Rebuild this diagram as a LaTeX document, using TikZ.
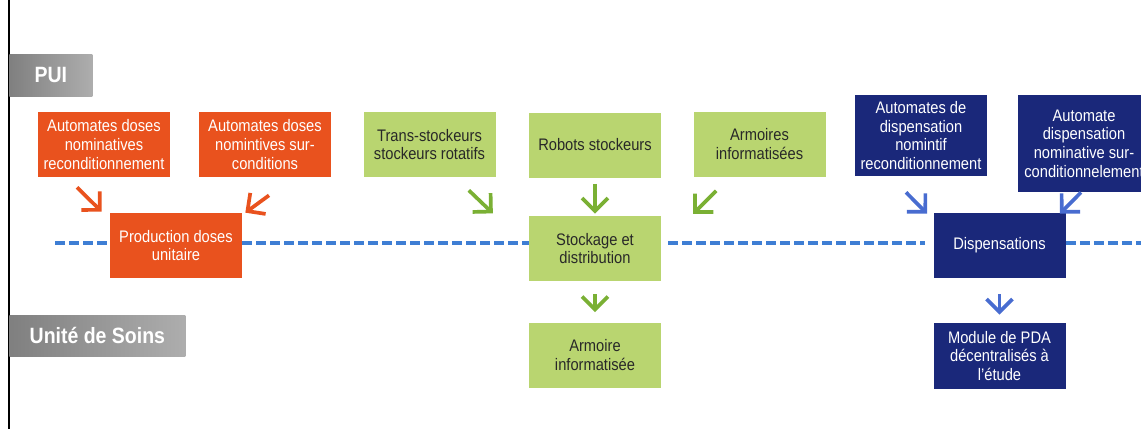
\documentclass[tikz,border=0pt]{standalone}
\usepackage{fontspec}
\setmainfont{Liberation Sans}[FakeStretch=0.88]
\usetikzlibrary{arrows.meta,calc,positioning}
\definecolor{pdaorange}{RGB}{233,82,30}
\definecolor{pdagreen}{RGB}{185,213,112}
\definecolor{pdanavy}{RGB}{26,40,122}
\definecolor{pdatext}{RGB}{40,40,40}
\definecolor{pdaarrgreen}{RGB}{122,176,52}
\definecolor{pdaarrblue}{RGB}{72,108,208}
\definecolor{pdalane}{RGB}{62,126,212}
\tikzset{
  ebox/.style  = {minimum width=26.4mm, minimum height=13mm, inner sep=0.6mm,
                  align=center, font=\fontsize{9.5}{10.6}\selectfont},
  obox/.style  = {ebox, fill=pdaorange, text=white},
  gbox/.style  = {ebox, fill=pdagreen, text=pdatext},
  nbox/.style  = {ebox, fill=pdanavy, text=white},
  tag/.style   = {anchor=west, left color=black!50, right color=black!32,
                  text=white, inner sep=0pt, font=\fontsize{12.6}{14}\selectfont\bfseries},
  arr/.style   = {-{Straight Barb[length=2.6mm,width=5.2mm]}, line width=2.1pt},
  oarr/.style  = {arr, draw=pdaorange},
  garr/.style  = {arr, draw=pdaarrgreen},
  barr/.style  = {arr, draw=pdaarrblue},
  lane/.style  = {draw=pdalane, line width=1.9pt, dash pattern=on 2mm off 0.8mm},
}
\begin{document}
\begin{tikzpicture}[x=0.2mm,y=-0.2mm]
  \useasboundingbox (0,0) rectangle (1141,429);
  \fill[white] (0,0) rectangle (1141,429);
  \draw[line width=0.9pt] (9,0) -- (9,429);

  % levels
  \node[tag, minimum width=16.6mm, minimum height=8.4mm] (pui) at (9,75) {PUI};
  \node[tag, minimum width=35.2mm, minimum height=8.2mm] (uds) at (9,335.5) {Unité de Soins};

  % production
  \node[obox] (adr) at (104,144.5) {Automates doses\\nominatives\\reconditionnement};
  \node[obox] (ads) at (265,144.5) {Automates doses\\nomintives sur-\\conditions};
  \node[obox] (prod) at (176,245.5) {Production doses\\unitaire};

  % stockage
  \node[gbox] (trans) at (429.5,144.5) {Trans-stockeurs\\stockeurs rotatifs};
  \node[gbox] (robots) at (595,145) {Robots stockeurs};
  \node[gbox] (armi) at (759.5,144) {Armoires\\informatisées};
  \node[gbox] (stock) at (595,248.5) {Stockage et\\distribution};
  \node[gbox] (armu) at (595,355) {Armoire\\informatisée};

  % dispensation
  \node[nbox, minimum height=16.2mm] (autod) at (921,135.5) {Automates de\\dispensation\\nomintif\\reconditionnement};
  \node[nbox, minimum height=19.4mm] (autodn) at (1084,143.5) {Automate\\dispensation\\nominative sur-\\conditionnelement};
  \node[nbox] (disp) at (999.5,245.5) {Dispensations};
  \node[nbox, minimum height=13.2mm] (pda) at (999.5,356) {Module de PDA\\décentralisés à\\l'étude};

  % dashed line
  \coordinate (lanein) at (55,243);
  \coordinate (laneout) at (1141,243);
  \draw[lane] (lanein) -- (lanein -| prod.west);
  \draw[lane] (prod.east |- lanein) -- (stock.west |- lanein);
  \draw[lane] ([xshift=1.4mm]stock.east |- lanein) -- ([xshift=-1.6mm]disp.west |- lanein);
  \draw[lane] (disp.east |- lanein) -- (laneout);

  % arrows
  \draw[oarr] ([shift={(-27,10)}]adr.south) -- ([shift={(-8,-1)}]prod.north west);
  \draw[oarr] ([shift={(4,18)}]ads.south) -- ([shift={(3,0)}]prod.north east);
  \draw[garr] ([shift={(-27,13)}]trans.south east) -- ([shift={(-3,36)}]trans.south east);
  \draw[garr, shorten <=1.2mm, shorten >=0.4mm] (robots.south) -- (stock.north);
  \draw[garr] ([shift={(23,14)}]armi.south west) -- ([shift={(0,37)}]armi.south west);
  \draw[garr, shorten <=2.6mm, shorten >=2mm] (stock.south) -- (armu.north);
  \draw[barr] ([shift={(-15,16)}]autod.south) -- ([shift={(-6,1)}]disp.north west);
  \draw[barr] ([shift={(-3,0)}]autodn.south) -- ([shift={(-6,1)}]disp.north east);
  \draw[barr, shorten <=3.2mm, shorten >=1.6mm] (disp.south) -- (pda.north);
\end{tikzpicture}
\end{document}
